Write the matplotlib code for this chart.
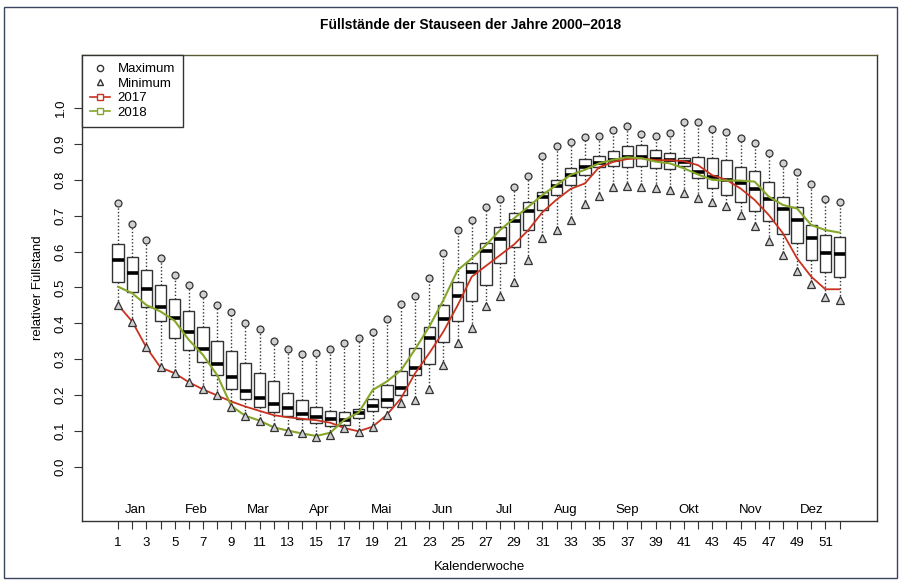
import matplotlib.pyplot as plt
from matplotlib.lines import Line2D

plt.rcParams['font.family'] = ['Liberation Sans', 'DejaVu Sans']

# Data
weeks = list(range(1, 53))
max_vals = [0.736, 0.676, 0.632, 0.583, 0.536, 0.508, 0.482, 0.451, 0.431, 0.402,
            0.383, 0.351, 0.328, 0.315, 0.316, 0.328, 0.346, 0.359, 0.376, 0.411,
            0.454, 0.475, 0.525, 0.595, 0.660, 0.688, 0.723, 0.748, 0.781, 0.812,
            0.867, 0.893, 0.905, 0.920, 0.922, 0.939, 0.950, 0.928, 0.922, 0.930,
            0.961, 0.961, 0.941, 0.934, 0.916, 0.902, 0.874, 0.848, 0.822, 0.789,
            0.746, 0.737]
q3_vals = [0.621, 0.586, 0.549, 0.508, 0.467, 0.433, 0.389, 0.350, 0.322, 0.290,
           0.261, 0.240, 0.205, 0.185, 0.168, 0.157, 0.154, 0.162, 0.190, 0.228,
           0.268, 0.330, 0.389, 0.451, 0.516, 0.569, 0.623, 0.668, 0.707, 0.737,
           0.767, 0.800, 0.832, 0.857, 0.867, 0.881, 0.893, 0.897, 0.884, 0.876,
           0.862, 0.864, 0.860, 0.854, 0.837, 0.824, 0.795, 0.752, 0.725, 0.674,
           0.646, 0.642]
med_vals = [0.577, 0.539, 0.497, 0.445, 0.416, 0.377, 0.329, 0.287, 0.251, 0.212,
            0.191, 0.176, 0.163, 0.148, 0.138, 0.134, 0.131, 0.149, 0.170, 0.186,
            0.221, 0.275, 0.358, 0.412, 0.477, 0.544, 0.603, 0.635, 0.686, 0.714,
            0.753, 0.783, 0.814, 0.837, 0.846, 0.854, 0.863, 0.863, 0.857, 0.855,
            0.851, 0.821, 0.809, 0.800, 0.792, 0.774, 0.746, 0.718, 0.688, 0.639,
            0.597, 0.592]
q1_vals = [0.514, 0.486, 0.446, 0.407, 0.358, 0.326, 0.291, 0.256, 0.217, 0.190,
           0.166, 0.154, 0.142, 0.134, 0.123, 0.114, 0.116, 0.136, 0.156, 0.166,
           0.200, 0.255, 0.286, 0.347, 0.407, 0.463, 0.507, 0.567, 0.612, 0.660,
           0.716, 0.758, 0.786, 0.814, 0.837, 0.839, 0.837, 0.839, 0.834, 0.829,
           0.839, 0.805, 0.776, 0.757, 0.738, 0.713, 0.686, 0.648, 0.625, 0.576,
           0.542, 0.528]
min_vals = [0.451, 0.405, 0.333, 0.277, 0.261, 0.236, 0.216, 0.199, 0.168, 0.142,
            0.129, 0.111, 0.100, 0.093, 0.084, 0.089, 0.107, 0.098, 0.112, 0.145,
            0.177, 0.186, 0.216, 0.284, 0.346, 0.386, 0.447, 0.475, 0.516, 0.577,
            0.637, 0.659, 0.688, 0.733, 0.755, 0.779, 0.783, 0.781, 0.777, 0.772,
            0.762, 0.749, 0.737, 0.728, 0.702, 0.670, 0.630, 0.590, 0.547, 0.509,
            0.474, 0.465]
y2017 = [0.451, 0.405, 0.333, 0.277, 0.261, 0.236, 0.216, 0.199, 0.182, 0.168,
         0.156, 0.144, 0.138, 0.134, 0.130, 0.123, 0.108, 0.099, 0.112, 0.145,
         0.191, 0.261, 0.317, 0.377, 0.450, 0.530, 0.560, 0.590, 0.620, 0.660,
         0.710, 0.745, 0.775, 0.790, 0.835, 0.850, 0.858, 0.860, 0.855, 0.855,
         0.852, 0.841, 0.813, 0.800, 0.776, 0.744, 0.702, 0.651, 0.581, 0.530,
         0.495, 0.495]
y2018 = [0.502, 0.484, 0.451, 0.433, 0.407, 0.354, 0.312, 0.256, 0.170, 0.142,
         0.129, 0.110, 0.101, 0.093, 0.086, 0.095, 0.131, 0.151, 0.214, 0.238,
         0.269, 0.328, 0.391, 0.465, 0.548, 0.581, 0.618, 0.660, 0.693, 0.725,
         0.758, 0.786, 0.814, 0.828, 0.846, 0.856, 0.863, 0.860, 0.851, 0.846,
         0.832, 0.815, 0.800, 0.798, 0.798, 0.795, 0.753, 0.730, 0.720, 0.674,
         0.660, 0.653]
months = ["Jan", "Feb", "Mar", "Apr", "Mai", "Jun",
          "Jul", "Aug", "Sep", "Okt", "Nov", "Dez"]

RED = "#c8321f"
GREEN = "#86a62a"
DARK = "#333333"

fig = plt.figure(figsize=(9.01, 5.81), dpi=100)
ax = fig.add_axes([0.091, 0.1033, 0.8824, 0.802])

# Boxes
stats = []
for lo, a, m, b, hi in zip(min_vals, q1_vals, med_vals, q3_vals, max_vals):
    stats.append(dict(whislo=lo, q1=a, med=m, q3=b, whishi=hi, fliers=[]))
ax.bxp(stats, positions=weeks, widths=0.8, showcaps=False, showfliers=False,
       patch_artist=True,
       boxprops=dict(facecolor="white", edgecolor=DARK, linewidth=1.0),
       whiskerprops=dict(color=DARK, linewidth=1.0, linestyle=(0, (1, 1.5))),
       medianprops=dict(color="black", linewidth=2.6))

# Years
ax.plot(weeks, y2017, color=RED, lw=1.3, zorder=4)
ax.plot(weeks, y2018, color=GREEN, lw=1.5, zorder=4)

# Max / min markers
ax.plot(weeks, max_vals, ls="none", marker="o", ms=5, mfc="#d0d0d0", mec=DARK,
        mew=0.9, zorder=5)
ax.plot(weeks, min_vals, ls="none", marker="^", ms=6, mfc="#d0d0d0", mec=DARK,
        mew=0.9, zorder=5)

ax.set_xlim(-1.55, 54.65)
ax.set_ylim(-0.151, 1.148)

# Axes ticks
ax.set_xticks(weeks)
ax.set_xticklabels([str(w) if w % 2 == 1 else "" for w in weeks])
ax.set_yticks([i / 10 for i in range(11)])
ax.set_yticklabels([f"{i / 10:.1f}" for i in range(11)], rotation=90, va="center")
ax.tick_params(axis="both", length=6, width=0.8, color=DARK, labelsize=9.5)
ax.tick_params(axis="x", pad=5.5)
ax.tick_params(axis="y", pad=5)

for s in ax.spines.values():
    s.set_color(DARK)
    s.set_linewidth(1.0)
ax.spines["top"].set_color("#5c5c34")

# Month labels inside the plot
for i, mo in enumerate(months):
    ax.text(2.2 + i * 4.35, -0.12, mo, ha="center", va="center", fontsize=9.5)

ax.set_xlabel("Kalenderwoche", fontsize=9.5, labelpad=9)
ax.set_ylabel("relativer Füllstand", fontsize=9.5, labelpad=8)
fig.text(0.522, 0.957, "Füllstände der Stauseen der Jahre 2000–2018",
         ha="center", va="center", fontsize=10, fontweight="bold")

# Legend
handles = [
    Line2D([], [], ls="none", marker="o", ms=4.5, mfc="white", mec=DARK),
    Line2D([], [], ls="none", marker="^", ms=5, mfc="white", mec=DARK),
    Line2D([], [], color=RED, lw=1.2, marker="s", ms=4.5, mfc="white", mec=RED),
    Line2D([], [], color=GREEN, lw=1.2, marker="s", ms=4.5, mfc="white", mec=GREEN),
]
leg = ax.legend(handles, ["Maximum", "Minimum", "2017", "2018"], loc="upper left",
                borderaxespad=0, fancybox=False, framealpha=1, edgecolor=DARK,
                fontsize=9.5, handlelength=1.5, labelspacing=0.18,
                borderpad=0.6, handletextpad=0.6)
leg.get_frame().set_linewidth(1.0)

# Outer frame of the scanned page
fig.add_artist(plt.Rectangle((0.0045, 0.005), 0.991, 0.983, transform=fig.transFigure,
                             fill=False, edgecolor="#3a4660", lw=1.0))

plt.savefig("out.png", dpi=100)
